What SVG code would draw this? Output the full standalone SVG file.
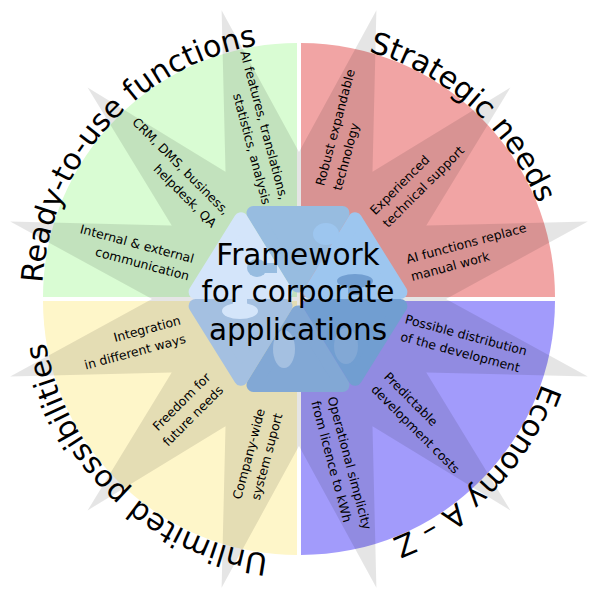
<svg xmlns="http://www.w3.org/2000/svg" width="598" height="598" viewBox="0 0 598 598">
<style>
.s{font-family:"DejaVu Sans",sans-serif;font-size:12.5px;fill:#000}
.e{text-anchor:end}
.t{font-family:"DejaVu Sans",sans-serif;font-size:30px;fill:#000}
.c{font-family:"DejaVu Sans",sans-serif;font-size:29.5px;fill:#000;text-anchor:middle}
.pc{stroke-width:14;stroke-linejoin:round}
</style>
<defs>
<path id="ring" d="M299,42 A257,257 0 1,1 299,556 A257,257 0 1,1 299,42"/>
</defs>
<rect width="598" height="598" fill="#fff"/>
<g id="quadrants">
<path id="q-green" d="M297,297 L43,297 A254,254 0 0,1 297,43 Z" fill="#d9fcd3"/>
<path id="q-red" d="M301,297 L301,43 A254,254 0 0,1 555,297 Z" fill="#f1a4a4"/>
<path id="q-blue" d="M301,301 L555,301 A254,254 0 0,1 301,555 Z" fill="#a29bfb"/>
<path id="q-yellow" d="M297,301 L297,555 A254,254 0 0,1 43,301 Z" fill="#fef6c9"/>
</g>
<polygon id="star" fill="#000" fill-opacity="0.1" points="299,152 376.4,10.2 372.5,171.7 510.4,87.6 426.3,225.5 587.8,221.6 446,299 587.8,376.4 426.3,372.5 510.4,510.4 372.5,426.3 376.4,587.8 299,446 221.6,587.8 225.5,426.3 87.6,510.4 171.7,372.5 10.2,376.4 152,299 10.2,221.6 171.7,225.5 87.6,87.6 225.5,171.7 221.6,10.2"/>
<g id="titles" class="t">
<text><textPath href="#ring" startOffset="1399.6" text-anchor="middle">Ready-to-use functions</textPath></text>
<text><textPath href="#ring" startOffset="188.4" text-anchor="middle">Strategic needs</textPath></text>
<text><textPath href="#ring" startOffset="601.1" text-anchor="middle">Economy A – Z</textPath></text>
<text><textPath href="#ring" startOffset="1002.6" text-anchor="middle">Unlimited possibilities</textPath></text>
</g>
<g id="labels" class="s">
<g id="n-internal" transform="rotate(15 299 299)"><text class="e" x="187" y="292">Internal &amp; external</text><text class="e" x="187" y="310">communication</text></g>
<g id="n-crm" transform="rotate(45 299 299)"><text class="e" x="187" y="293">CRM, DMS, business,</text><text class="e" x="187" y="311">helpdesk, QA</text></g>
<g id="n-ai" transform="rotate(75 299 299)"><text class="e" x="199" y="292">AI features, translations,</text><text class="e" x="199" y="310">statistics, analysis</text></g>
<g id="n-robust" transform="rotate(-75 299 299)"><text x="414" y="294">Robust expandable</text><text x="414" y="312">technology</text></g>
<g id="n-experienced" transform="rotate(-45 299 299)"><text x="412" y="294">Experienced</text><text x="412" y="312">technical support</text></g>
<g id="n-aifunc" transform="rotate(-15 299 299)"><text x="413" y="293">AI functions replace</text><text x="413" y="311">manual work</text></g>
<g id="n-possible" transform="rotate(15 299 299)"><text x="407" y="295">Possible distribution</text><text x="407" y="313">of the development</text></g>
<g id="n-predictable" transform="rotate(45 299 299)"><text x="414" y="295">Predictable</text><text x="414" y="313">development costs</text></g>
<g id="n-operational" transform="rotate(75 299 299)"><text x="402" y="297">Operational simplicity</text><text x="402" y="314">from licence to kWh</text></g>
<g id="n-company" transform="rotate(-75 299 299)"><text class="e" x="183" y="295">Company-wide</text><text class="e" x="183" y="313">system suport</text></g>
<g id="n-freedom" transform="rotate(-45 299 299)"><text class="e" x="181" y="293">Freedom for</text><text class="e" x="181" y="311">future needs</text></g>
<g id="n-integration" transform="rotate(-15 299 299)"><text class="e" x="179" y="293">Integration</text><text class="e" x="179" y="312">in different ways</text></g>
</g>
<g id="hexagon">
<polygon class="pc" fill="#97bce0" stroke="#97bce0" points="253.5,213 342.5,213 298,285.6"/>
<polygon class="pc" fill="#d4e5fa" stroke="#d4e5fa" points="195.6,292 240.95,219.3 285.5,292"/>
<polygon class="pc" fill="#9dc6ef" stroke="#9dc6ef" points="400.4,292 355.05,219.3 310.5,292"/>
<polygon class="pc" fill="#a4c0e1" stroke="#a4c0e1" points="195.6,306 240.95,378.7 285.5,306"/>
<polygon class="pc" fill="#82a8d5" stroke="#82a8d5" points="253.5,385 342.5,385 298,312.4"/>
<polygon class="pc" fill="#719ed1" stroke="#719ed1" points="400.4,306 355.05,378.7 310.5,306"/>
<ellipse cx="257" cy="268" rx="10" ry="9" fill="#97bce0"/>
<rect x="257" y="263" width="20" height="10" fill="#97bce0"/>
<ellipse cx="326" cy="234" rx="13" ry="11" fill="#9dc6ef"/>
<ellipse cx="355" cy="281" rx="18" ry="7" fill="#719ed1"/>
<rect x="348" y="281" width="14" height="14" fill="#719ed1"/>
<ellipse cx="240" cy="311" rx="18" ry="8" fill="#d4e5fa"/>
<rect x="233" y="297" width="14" height="12" fill="#d4e5fa"/>
<ellipse cx="284" cy="349" rx="11" ry="19" fill="#a4c0e1"/>
<ellipse cx="346" cy="346" rx="12" ry="18" fill="#82a8d5"/>
</g>
<g id="center-text" class="c">
<text x="298" y="265">Framework</text>
<text x="298" y="302">for corporate</text>
<text x="298" y="340">applications</text>
</g>
</svg>
